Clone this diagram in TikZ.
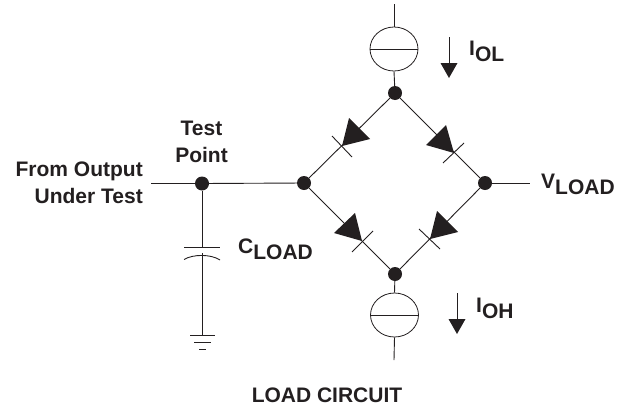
\documentclass[tikz,border=0pt]{standalone}
\usepackage{fontspec}
\setmainfont{Liberation Sans}
\definecolor{ink}{HTML}{231F20}
\usetikzlibrary{shapes.geometric}
\tikzset{
  dot/.style={circle,fill=ink,draw=none,inner sep=0pt,minimum size=14pt},
  wire/.style={draw=ink,line width=0.9pt},
  thinwire/.style={draw=ink,line width=0.8pt},
  src/.style={ellipse,draw=ink,line width=0.8pt,inner sep=0pt,minimum width=48pt,minimum height=44pt},
  lbl/.style={inner sep=0pt,text=ink,font=\fontsize{21}{24}\selectfont\bfseries},
  tip/.style={fill=ink,draw=none}
}
\newcommand{\sbs}[1]{\raisebox{-6pt}{#1}}
\begin{document}
\begin{tikzpicture}[x=1pt,y=-1pt]
\useasboundingbox (0,0) rectangle (626,407);
% junctions
\node[dot] (T) at (395,93) {};
\node[dot] (L) at (304,183) {};
\node[dot] (R) at (485,183) {};
\node[dot] (B) at (395,274) {};
\node[dot] (P) at (202,183.5) {};
% current sources
\node[src] (S1) at (394,49) {};
\node[src] (S2) at (394.5,315) {};
\draw[thinwire] (S1.west) -- (S1.east);
\draw[thinwire] (S2.west) -- (S2.east);
\coordinate (s1top) at (394,4);
\coordinate (s2bot) at (394,360);
\draw[wire] (s1top) -- (S1.north);
\draw[wire] (S1.south) -- (T);
\draw[wire] (B) -- (S2.north);
\draw[wire] (S2.south) -- (s2bot);
% bridge
\draw[wire] (T) -- (L);
\draw[wire] (T) -- (R);
\draw[wire] (L) -- (B);
\draw[wire] (R) -- (B);
% main wires
\coordinate (inp) at (151,183.5);
\coordinate (vl) at (530,183);
\draw[wire] (inp) -- (P);
\draw[wire] (P) -- (L);
\draw[wire] (R) -- (vl);
% diodes
\fill[tip] (342,146) -- (349,118) -- (370,139) -- cycle;
\draw[wire] (332,136) -- (352,157);
\fill[tip] (454,153) -- (446,125) -- (426,145) -- cycle;
\draw[wire] (443,163) -- (464,143);
\fill[tip] (362,241) -- (355,213) -- (334,233) -- cycle;
\draw[wire] (352,252) -- (373,231);
\fill[tip] (430,239) -- (437,211) -- (458,232) -- cycle;
\draw[wire] (419,229) -- (440,249);
% current arrows
\coordinate (a1) at (449,37); \coordinate (a1b) at (449,64);
\draw[wire] (a1) -- (a1b);
\fill[tip] (449,78) -- (440.5,63) -- (457.5,63) -- cycle;
\coordinate (a2) at (457,293); \coordinate (a2b) at (457,320);
\draw[wire] (a2) -- (a2b);
\fill[tip] (457,334) -- (448.5,319) -- (465.5,319) -- cycle;
% capacitor and ground
\coordinate (c1) at (202,247);
\coordinate (c2) at (202,253);
\coordinate (g) at (202,335);
\draw[wire] (P) -- (c1);
\draw[wire] (184,247) -- (220,247);
\draw[wire] (184,259.5) .. controls (193,254) and (211,254) .. (220,260);
\draw[wire] (c2) -- (g);
\draw[wire] (190,335) -- (215,335);
\draw[wire] (194,342) -- (211,342);
\draw[wire] (199,349) -- (206,349);
% labels
\node[lbl,anchor=base east] (t1) at (143,176.5) {From Output};
\node[lbl,anchor=base east] (t2) at (143,203.5) {Under Test};
\node[lbl,anchor=base] (t3) at (201.5,135.5) {Test};
\node[lbl,anchor=base] (t4) at (201.5,162) {Point};
\node[lbl,anchor=base west] (t5) at (238,253) {C\sbs{LOAD}};
\node[lbl,anchor=base west] (t6) at (541,188) {V\sbs{LOAD}};
\node[lbl,anchor=base west] (t7) at (469,55) {I\sbs{OL}};
\node[lbl,anchor=base west] (t8) at (476,312) {I\sbs{OH}};
\node[lbl,anchor=base] (t9) at (327,402) {LOAD CIRCUIT};
\end{tikzpicture}
\end{document}
